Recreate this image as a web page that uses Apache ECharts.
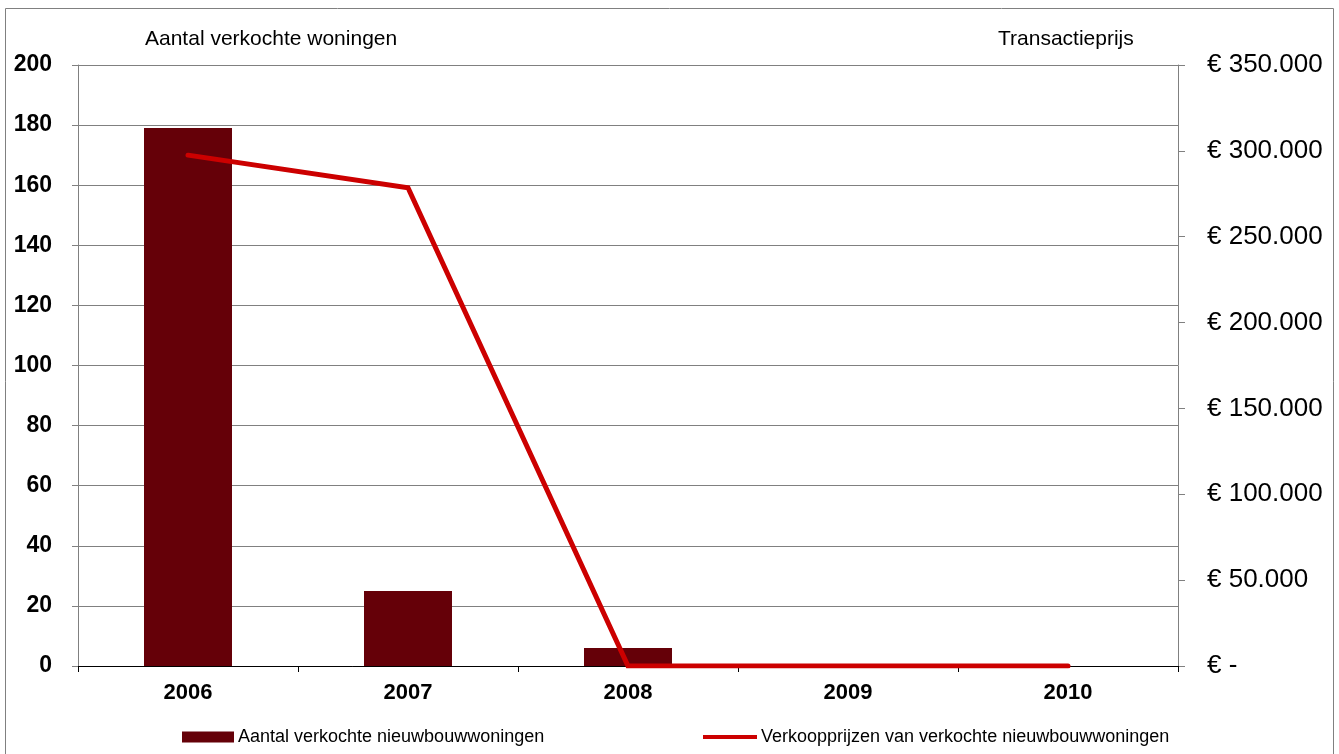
<!DOCTYPE html>
<html>
<head>
<meta charset="utf-8">
<script src="https://cdn.jsdelivr.net/npm/echarts@6/dist/echarts.min.js"></script>
<style>
html,body{margin:0;padding:0;background:#fff;}
#c{width:1339px;height:754px;}
</style>
</head>
<body>
<div id="c"></div>
<script>
const categories = ['2006', '2007', '2008', '2009', '2010'];
const aantalVerkocht = [179, 25, 6, 0, 0];
const verkoopprijzen = [297500, 278500, 0, 0, 0];
const leftTicks = { min: 0, max: 200, interval: 20 };
const rightTicks = { min: 0, max: 350000, interval: 50000 };
const barName = 'Aantal verkochte nieuwbouwwoningen';
const lineName = 'Verkoopprijzen van verkochte nieuwbouwwoningen';
const leftTitle = 'Aantal verkochte woningen';
const rightTitle = 'Transactieprijs';

function euro(v) {
  if (v === 0) return '€ -';
  return '€ ' + String(v).replace(/\B(?=(\d{3})+(?!\d))/g, '.');
}

const FONT = 'Arial, "Liberation Sans", sans-serif';
const chart = echarts.init(document.getElementById('c'), null, { renderer: 'canvas' });
chart.setOption({
  animation: false,
  textStyle: { fontFamily: FONT },
  grid: { left: 78, right: 161, top: 65, bottom: 88, containLabel: false },
  graphic: [
    { type: 'rect', shape: { x: 5.5, y: 8.5, width: 1328, height: 760 }, style: { fill: 'none', stroke: '#808080', lineWidth: 1 }, silent: true },
    { type: 'text', left: 145, top: 29, style: { text: leftTitle, font: '21px ' + FONT, fill: '#000' } },
    { type: 'text', left: 998, top: 29, style: { text: rightTitle, font: '21px ' + FONT, fill: '#000' } }
  ],
  legend: [
    {
      data: [{ name: barName, icon: 'rect' }],
      left: 182, top: 728, padding: 0, itemWidth: 52, itemHeight: 11,
      textStyle: { fontSize: 18, color: '#000', fontFamily: FONT, padding: [0, 0, 0, -1] },
      itemStyle: { color: '#650008' }
    },
    {
      data: [{ name: lineName, icon: 'rect' }],
      left: 703, top: 728, padding: 0, itemWidth: 54, itemHeight: 4,
      textStyle: { fontSize: 18, color: '#000', fontFamily: FONT, padding: [0, 0, 0, -1] },
      itemStyle: { color: '#CC0000' }
    }
  ],
  xAxis: {
    type: 'category',
    data: categories,
    boundaryGap: true,
    axisLine: { lineStyle: { color: '#000', width: 1 } },
    axisTick: { show: true, interval: 0, length: 6, lineStyle: { color: '#000' } },
    axisLabel: { interval: 0, margin: 16, fontSize: 22, fontWeight: 'bold', color: '#000' }
  },
  yAxis: [
    {
      type: 'value', min: leftTicks.min, max: leftTicks.max, interval: leftTicks.interval,
      axisLine: { show: true, lineStyle: { color: '#808080' } },
      axisTick: { show: true, length: 6, lineStyle: { color: '#808080' } },
      axisLabel: { margin: 26, fontSize: 23, fontWeight: 'bold', color: '#000' },
      splitLine: { show: true, lineStyle: { color: '#808080', width: 1 } }
    },
    {
      type: 'value', position: 'right', min: rightTicks.min, max: rightTicks.max, interval: rightTicks.interval,
      axisLine: { show: true, lineStyle: { color: '#808080' } },
      axisTick: { show: true, length: 7, lineStyle: { color: '#808080' } },
      axisLabel: { margin: 29, fontSize: 26, color: '#000', formatter: euro },
      splitLine: { show: false }
    }
  ],
  series: [
    {
      name: barName, type: 'bar', data: aantalVerkocht, yAxisIndex: 0,
      barWidth: '40%',
      itemStyle: { color: '#650008' }
    },
    {
      name: lineName, type: 'line', data: verkoopprijzen, yAxisIndex: 1,
      showSymbol: false, symbol: 'none',
      lineStyle: { color: '#CC0000', width: 5, cap: 'round', join: 'miter' },
      itemStyle: { color: '#CC0000' }
    }
  ]
});
</script>
</body>
</html>
